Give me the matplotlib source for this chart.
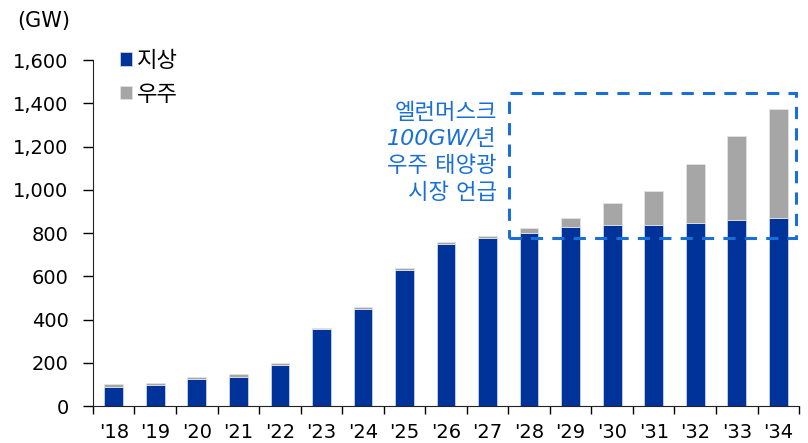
import matplotlib
matplotlib.use("Agg")
import matplotlib.pyplot as plt
from matplotlib.patches import Rectangle
import numpy as np

plt.rcParams['font.family'] = ['DejaVu Sans', 'Noto Sans CJK KR']

years = ["'18", "'19", "'20", "'21", "'22", "'23", "'24", "'25", "'26",
         "'27", "'28", "'29", "'30", "'31", "'32", "'33", "'34"]
ground = [90, 97, 124, 136, 188, 355, 450, 630, 748, 775, 800, 828, 835, 838, 845, 860, 870]
space = [10, 9, 10, 12, 9, 6, 8, 7, 9, 10, 22, 40, 105, 156, 275, 387, 505]
yticks = [0, 200, 400, 600, 800, 1000, 1200, 1400, 1600]

c_ground = '#00339A'
c_space = '#A6A6A6'
c_box = '#1A6FD6'
fs = 14

fig = plt.figure(figsize=(8.08, 4.43), dpi=100)
ax = fig.add_axes([0.115, 0.0835, 0.874, 0.781])

x = np.arange(len(years))
w = 0.45
ax.bar(x, ground, width=w, color=c_ground, edgecolor='#C9D3EA', linewidth=0.6, label='지상', zorder=2)
ax.bar(x, space, bottom=ground, width=w, color=c_space, edgecolor='#E2E2E2', linewidth=0.6, label='우주', zorder=2)

ax.set_xlim(-0.5, len(years) - 0.5)
ax.set_ylim(0, 1600)
ax.set_yticks(yticks)
ax.set_yticklabels([f'{v:,}' for v in yticks], fontsize=fs)
ax.set_xticks(x)
ax.set_xticklabels(years, fontsize=fs)
ax.set_xticks(np.arange(-0.5, len(years)), minor=True)
ax.tick_params(axis='x', which='major', length=0, pad=12)
ax.tick_params(axis='x', which='minor', length=6, width=1, direction='out')
ax.tick_params(axis='y', length=7, width=1, direction='out', pad=10.5)
for s in ('top', 'right'):
    ax.spines[s].set_visible(False)
ax.spines['left'].set_color('#222222')
ax.spines['bottom'].set_color('#222222')

ax.text(-0.032, 1.113, '(GW)', transform=ax.transAxes, fontsize=15, ha='right', va='center')

leg = ax.legend(loc='upper left', bbox_to_anchor=(0.01, 1.085), frameon=False, fontsize=16,
                handlelength=0.55, handleheight=0.55, handletextpad=0.2, labelspacing=0.62)

box = Rectangle((9.52, 777), 16.42 - 9.52, 1447 - 777, fill=False, edgecolor=c_box,
                linestyle=(0, (4, 3)), linewidth=2.2, zorder=3, clip_on=False)
ax.add_patch(box)

ax.text(9.22, 1172, '엘런머스크\n100GW/년\n우주 태양광\n시장 언급', color=c_box, fontsize=16,
        style='italic', ha='right', va='center', linespacing=1.38)

fig.savefig('out.png', dpi=100)
